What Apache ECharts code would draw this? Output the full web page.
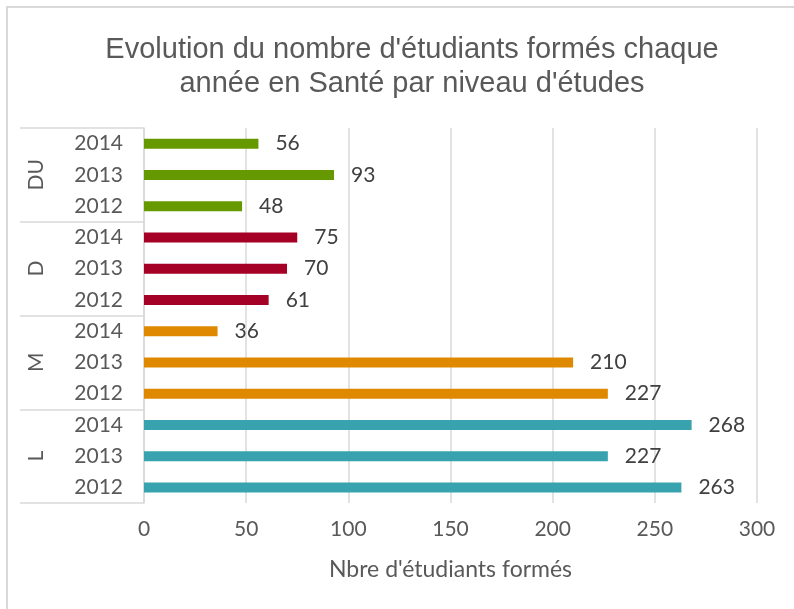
<!DOCTYPE html>
<html>
<head>
    <meta charset="utf-8">
    <script src="https://cdn.jsdelivr.net/npm/echarts@6/dist/echarts.min.js"></script>
</head>
<body style="margin:0;background:#fff;">
    <div id="main" style="width: 794px;height:609px;"></div>
    <script type="text/javascript">
        var myChart = echarts.init(document.getElementById('main'));

        // niveaux (du bas vers le haut) et années
        var niveaux = ['L', 'M', 'D', 'DU'];
        var annees = ['2012', '2013', '2014'];
        // valeurs par niveau, ordre 2012, 2013, 2014
        var valL = [263, 227, 268];
        var valM = [227, 210, 36];
        var valD = [61, 70, 75];
        var valDU = [48, 93, 56];
        var couleurs = ['#38a3ae', '#de8900', '#a50026', '#669900'];
        var ticksX = [0, 300, 50];

        var valeurs = [valL, valM, valD, valDU];
        var categories = [];
        var data = [];
        niveaux.forEach(function (n, i) {
            annees.forEach(function (a, j) {
                categories.push(a);
                data.push({ value: valeurs[i][j], itemStyle: { color: couleurs[i] } });
            });
        });

        var police = 'Lato, "Noto Sans", sans-serif';

        var option = {
            animation: false,
            title: {
                text: "Evolution du nombre d'étudiants formés chaque\nannée en Santé par niveau d'études",
                left: 407,
                textAlign: 'center',
                top: 28,
                textStyle: {
                    fontFamily: '"Liberation Sans", Arial, sans-serif',
                    fontSize: 29,
                    fontWeight: 'normal',
                    color: '#595959',
                    lineHeight: 34
                }
            },
            graphic: [{
                type: 'rect',
                shape: { x: 7, y: 7, width: 820, height: 640 },
                style: { fill: 'none', stroke: '#d9d9d9', lineWidth: 2 },
                silent: true
            }],
            grid: {
                left: 144,
                right: 37,
                top: 128,
                bottom: 106
            },
            xAxis: {
                type: 'value',
                min: ticksX[0],
                max: ticksX[1],
                interval: ticksX[2],
                axisLine: { show: false },
                axisTick: { show: false },
                splitLine: { lineStyle: { color: '#d9d9d9', width: 1.5 } },
                axisLabel: {
                    color: '#595959',
                    fontFamily: police,
                    fontSize: 21,
                    margin: 16
                },
                name: "Nbre d'étudiants formés",
                nameLocation: 'middle',
                nameGap: 55,
                nameTextStyle: {
                    color: '#595959',
                    fontFamily: police,
                    fontSize: 23
                }
            },
            yAxis: [{
                type: 'category',
                data: categories,
                axisLine: { lineStyle: { color: '#d9d9d9', width: 1.5 } },
                axisTick: { show: false },
                axisLabel: {
                    color: '#595959',
                    fontFamily: police,
                    fontSize: 21,
                    margin: 21
                }
            }, {
                type: 'category',
                data: niveaux,
                position: 'left',
                offset: 124,
                axisLine: { show: false },
                axisTick: {
                    show: true,
                    inside: true,
                    length: 124,
                    lineStyle: { color: '#d9d9d9', width: 1.5 }
                },
                axisLabel: {
                    inside: true,
                    rotate: 90,
                    align: 'center',
                    verticalAlign: 'middle',
                    margin: 16,
                    color: '#595959',
                    fontFamily: police,
                    fontSize: 21
                }
            }],
            series: [{
                type: 'bar',
                yAxisIndex: 0,
                barWidth: 10,
                data: data,
                label: {
                    show: true,
                    position: 'right',
                    distance: 17,
                    color: '#404040',
                    fontFamily: police,
                    fontSize: 21
                }
            }]
        };

        myChart.setOption(option);
    </script>
</body>
</html>
